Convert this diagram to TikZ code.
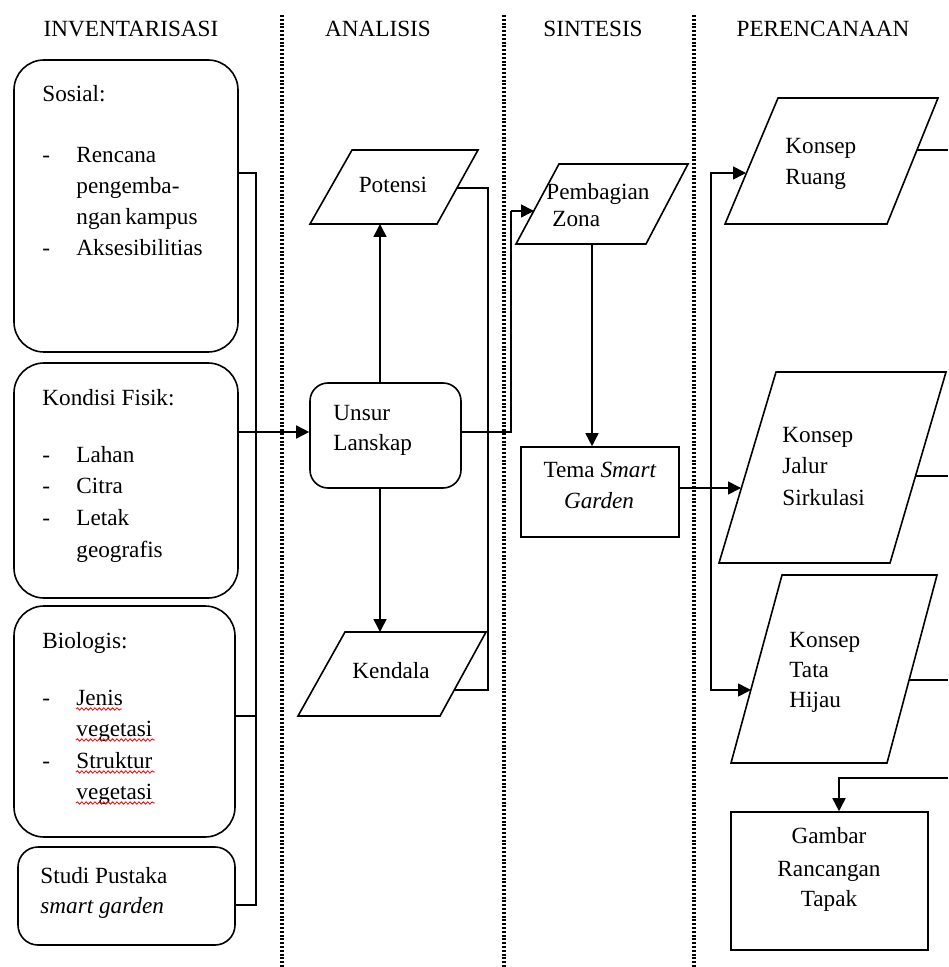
\documentclass[tikz,border=0pt]{standalone}
\usepackage{fontspec}
\setmainfont{Liberation Serif}
\usetikzlibrary{arrows.meta,decorations.pathmorphing,fit}
\begin{document}
\begin{tikzpicture}[x=0.5pt,y=-0.5pt,
  font=\fontsize{11.6}{15.5}\selectfont,
  ln/.style={line width=0.8pt, line join=miter},
  arr/.style={ln,-{Triangle[length=6.5pt,width=6.5pt]}},
  sep/.style={line width=1.6pt, dash pattern=on 1pt off 0.9pt},
  rbox/.style={draw, ln, inner sep=0pt},
  sbox/.style={draw, ln, inner sep=0pt},
  para/.style={draw, ln},
  tl/.style={inner sep=0pt, anchor=base west},
  tc/.style={inner sep=0pt, anchor=base},
  wavy/.style={red, line width=0.4pt, decorate, decoration={snake, amplitude=0.6pt, segment length=2.2pt}}
]
\useasboundingbox (0,0) rectangle (948,967);

% column separators
\draw[sep] (282,15) coordinate (s1a) -- (282,967) coordinate (s1b);
\draw[sep] (504,15) coordinate (s2a) -- (504,967) coordinate (s2b);
\draw[sep] (694,15) coordinate (s3a) -- (694,967) coordinate (s3b);

% headers
\node[tc] (h1) at (131,37) {INVENTARISASI};
\node[tc] (h2) at (378,37) {ANALISIS};
\node[tc] (h3) at (593,37) {SINTESIS};
\node[tc] (h4) at (823,37) {PERENCANAAN};

% ---------- INVENTARISASI ----------
\node[rbox, rounded corners=15pt, fit={(14,60)(238,352)}] (sosial) {};
\node[tl] (sos0) at (42,102) {Sosial:};
\node[tl] (sosd1) at (42,163) {-};
\node[tl] (sos1) at (76,163) {Rencana};
\node[tl] (sos2) at (76,194) {pengemba-};
\node[tl] (sos3) at (76,225) {ngan\,kampus};
\node[tl] (sosd2) at (42,256) {-};
\node[tl] (sos4) at (76,256) {Aksesibilitias};

\node[rbox, rounded corners=15pt, fit={(14,363)(238,598)}] (fisik) {};
\node[tl] (fis0) at (42,406) {Kondisi Fisik:};
\node[tl] (fisd1) at (42,462) {-};
\node[tl] (fis1) at (76,462) {Lahan};
\node[tl] (fisd2) at (42,493) {-};
\node[tl] (fis2) at (76,493) {Citra};
\node[tl] (fisd3) at (42,525) {-};
\node[tl] (fis3) at (76,525) {Letak};
\node[tl] (fis4) at (76,557) {geografis};

\node[rbox, rounded corners=15pt, fit={(14,606)(235,837)}] (bio) {};
\node[tl] (bio0) at (42,648) {Biologis:};
\node[tl] (biod1) at (42,705) {-};
\node[tl] (bio1) at (76,705) {Jenis};
\node[tl] (bio2) at (76,736) {vegetasi};
\node[tl] (biod2) at (42,768) {-};
\node[tl] (bio3) at (76,768) {Struktur};
\node[tl] (bio4) at (76,799) {vegetasi};
\draw[wavy] (bio1.base west) ++(0,4) -- ++(46,0);
\draw[wavy] (bio2.base west) ++(0,4) -- ++(79,0);
\draw[wavy] (bio3.base west) ++(0,4) -- ++(79,0);
\draw[wavy] (bio4.base west) ++(0,4) -- ++(79,0);

\node[rbox, rounded corners=10pt, fit={(18,847)(235,945)}] (studi) {};
\node[tl] (stu1) at (40,883) {Studi Pustaka};
\node[tl] (stu2) at (40,913) {\itshape smart garden};

% bus line
\coordinate (b1) at (256,173);
\coordinate (b2) at (256,432);
\coordinate (b3) at (256,716);
\coordinate (b4) at (256,905);
\draw[ln] (b1 -| sosial.east) -- (b1) -- (b4) -- (b4 -| studi.east);
\draw[ln] (b3 -| bio.east) -- (b3);

% ---------- ANALISIS ----------
\node[rbox, rounded corners=9pt, fit={(310,383)(461,488)}] (unsur) {};
\node[tl] (uns1) at (333,420) {Unsur};
\node[tl] (uns2) at (333,450) {Lanskap};

\draw[para] (352,150) coordinate (pot-a) -- (478,150) coordinate (pot-b) -- (437,224) coordinate (pot-c) -- (310,224) coordinate (pot-d) -- cycle;
\node[tc] (potensi) at (393,193) {Potensi};
\coordinate (pot-r) at (457,188);
\coordinate (pot-in) at (380,224);

\draw[para] (345,632) coordinate (ken-a) -- (486,632) coordinate (ken-b) -- (440,716) coordinate (ken-c) -- (298,716) coordinate (ken-d) -- cycle;
\node[tc] (kendala) at (391,678) {Kendala};
\coordinate (ken-r) at (454,690);
\coordinate (ken-in) at (380,632);

\draw[arr] (b2 -| fisik.east) -- (b2 -| unsur.west);
\draw[arr] (unsur.north -| pot-in) -- (pot-in);
\draw[arr] (unsur.south -| ken-in) -- (ken-in);

\coordinate (c1) at (488,188);
\coordinate (c2) at (488,690);
\coordinate (c3) at (511,432);
\coordinate (c4) at (511,211);
\draw[ln] (pot-r) -- (c1) -- (c2) -- (ken-r);
\draw[ln] (c3 -| unsur.east) -- (c3) -- (c4);

% ---------- SINTESIS ----------
\draw[para] (559,164) coordinate (pz-a) -- (688,164) coordinate (pz-b) -- (646,244) coordinate (pz-c) -- (516,244) coordinate (pz-d) -- cycle;
\node[tl] (pz1) at (546,200) {Pembagian};
\node[tl] (pz2) at (552,227) {Zona};
\coordinate (pz-l) at (534,211);
\coordinate (pz-out) at (592,244);
\draw[arr] (c4) -- (pz-l);

\node[sbox, fit={(521,447)(679,537)}] (tema) {};
\node[tc] (tema1) at (600,477) {Tema \textit{Smart}};
\node[tc] (tema2) at (599,508) {\textit{Garden}};
\draw[arr] (pz-out) -- (pz-out |- tema.north);

% ---------- PERENCANAAN ----------
\draw[para] (778,98) coordinate (ru-a) -- (938,98) coordinate (ru-b) -- (887,224) coordinate (ru-c) -- (725,224) coordinate (ru-d) -- cycle;
\node[tl] (ru1) at (785,154) {Konsep};
\node[tl] (ru2) at (785,185) {Ruang};
\coordinate (ru-l) at (746,173);
\coordinate (ru-r) at (917,150);

\draw[para] (776,372) coordinate (ja-a) -- (946,372) coordinate (ja-b) -- (890,563) coordinate (ja-c) -- (719,563) coordinate (ja-d) -- cycle;
\node[tl] (ja1) at (782,442) {Konsep};
\node[tl] (ja2) at (782,473) {Jalur};
\node[tl] (ja3) at (782,505) {Sirkulasi};
\coordinate (ja-l) at (741,488);
\coordinate (ja-r) at (915,476);

\draw[para] (782,575) coordinate (hi-a) -- (937,575) coordinate (hi-b) -- (887,763) coordinate (hi-c) -- (731,763) coordinate (hi-d) -- cycle;
\node[tl] (hi1) at (789,647) {Konsep};
\node[tl] (hi2) at (789,677) {Tata};
\node[tl] (hi3) at (789,707) {Hijau};
\coordinate (hi-l) at (751,690);
\coordinate (hi-r) at (909,680);

\node[sbox, fit={(731,812)(928,950)}] (gambar) {};
\node[tc] (gb1) at (829,843) {Gambar};
\node[tc] (gb2) at (829,876) {Rancangan};
\node[tc] (gb3) at (829,906) {Tapak};

\draw[arr] (ja-l -| tema.east) -- (ja-l);
\coordinate (d1) at (711,173);
\coordinate (d2) at (711,690);
\draw[arr] (d2) -- (d1) -- (ru-l);
\draw[arr] (d1) -- (d2) -- (hi-l);

\coordinate (e1) at (948,150);
\coordinate (e2) at (948,476);
\coordinate (e3) at (948,680);
\coordinate (e4) at (948,778);
\coordinate (e5) at (839,778);
\draw[ln] (ru-r) -- (e1);
\draw[ln] (ja-r) -- (e2);
\draw[ln] (hi-r) -- (e3);
\draw[arr] (e4) -- (e5) -- (e5 |- gambar.north);
\end{tikzpicture}
\end{document}
